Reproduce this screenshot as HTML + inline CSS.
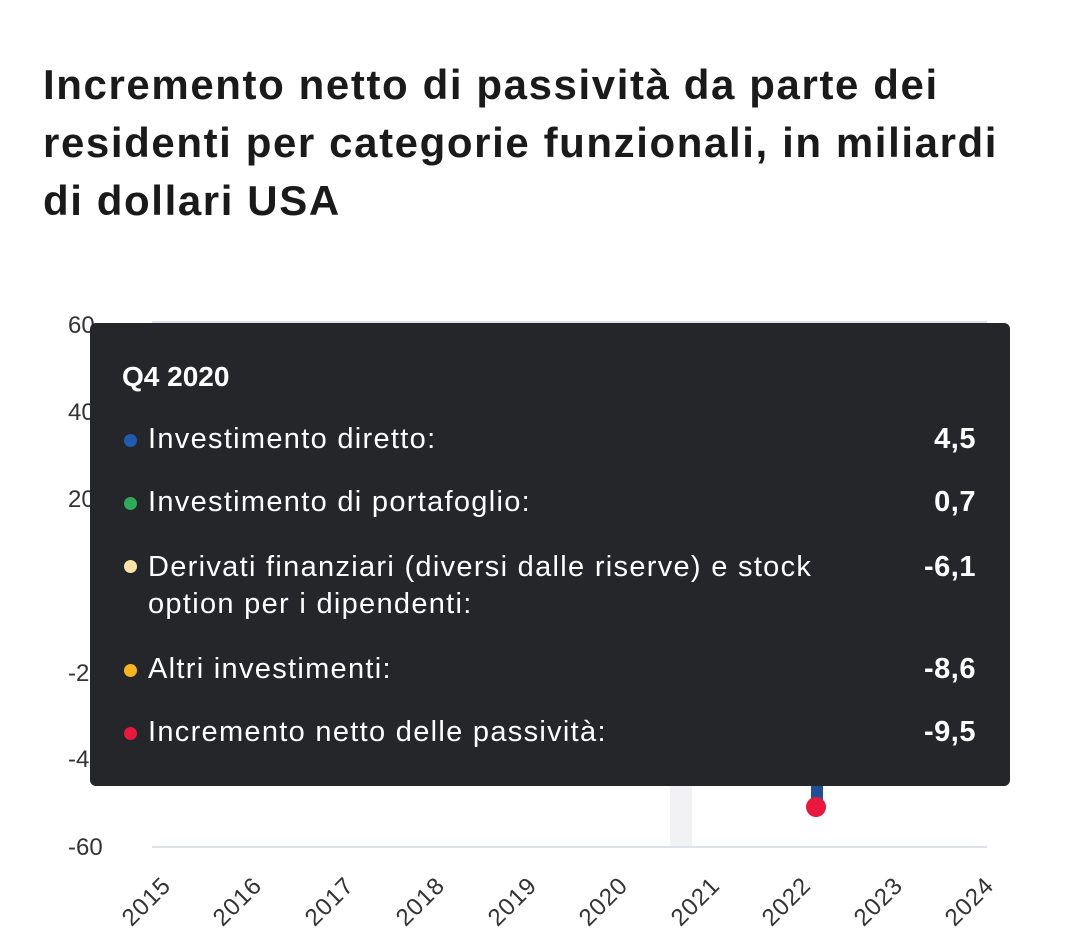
<!DOCTYPE html>
<html><head><meta charset="utf-8"><style>
body{margin:0;width:1080px;height:941px;background:#fff;font-family:"Liberation Sans",sans-serif;position:relative;overflow:hidden}
h1{position:absolute;left:43px;top:56px;margin:0;font-size:42px;line-height:58px;font-weight:bold;color:#1a1a1a;white-space:nowrap;letter-spacing:1.6px}
.yl{position:absolute;left:68px;font-size:24px;color:#333}
.xl{position:absolute;font-size:24px;color:#333;transform-origin:right top;transform:rotate(-45deg);letter-spacing:1px}
.tt{position:absolute;left:90px;top:323px;width:920px;height:463px;background:#25262a;border-radius:6px;color:#fff}
.r{position:absolute;left:58px;font-size:29px;width:830px;letter-spacing:1.3px}
.r .d{position:absolute;left:-24px;top:11px;width:13px;height:13px;border-radius:50%}
.r .v{position:absolute;right:2px;top:0;font-weight:bold;letter-spacing:0.5px}
</style></head><body>
<h1>Incremento netto di passività da parte dei<br>residenti per categorie funzionali, in miliardi<br>di dollari USA</h1>
<svg width="1080" height="941" style="position:absolute;left:0;top:0">
<rect x="670" y="322" width="22" height="525" fill="#f2f2f4"/>
<line x1="152" y1="322" x2="987" y2="322" stroke="#dde2ec" stroke-width="2"/>
<line x1="152" y1="847" x2="987" y2="847" stroke="#dde2ec" stroke-width="2"/>
<rect x="811" y="770" width="12" height="34" fill="#1f4f96"/>
<circle cx="816" cy="807" r="10" fill="#e8193c"/>
</svg>
<div class="yl" style="top:312px">60</div>
<div class="yl" style="top:399px">40</div>
<div class="yl" style="top:486px">20</div>
<div class="yl" style="top:660px">-20</div>
<div class="yl" style="top:746px">-40</div>
<div class="yl" style="top:834px">-60</div>
<div class="xl" style="left:100px;top:872px">2015</div>
<div class="xl" style="left:191px;top:872px">2016</div>
<div class="xl" style="left:283px;top:872px">2017</div>
<div class="xl" style="left:374px;top:872px">2018</div>
<div class="xl" style="left:466px;top:872px">2019</div>
<div class="xl" style="left:557px;top:872px">2020</div>
<div class="xl" style="left:649px;top:872px">2021</div>
<div class="xl" style="left:740px;top:872px">2022</div>
<div class="xl" style="left:832px;top:872px">2023</div>
<div class="xl" style="left:923px;top:872px">2024</div>
<div class="tt">
<div style="position:absolute;left:32px;top:38px;font-size:28px;font-weight:bold">Q4 2020</div>
<div class="r" style="top:100px"><span class="d" style="background:#1f5bb0"></span>Investimento diretto:<span class="v">4,5</span></div>
<div class="r" style="top:163px"><span class="d" style="background:#2eaa5c"></span>Investimento di portafoglio:<span class="v">0,7</span></div>
<div class="r" style="top:226px;line-height:37px"><span class="d" style="background:#fde3a8"></span>Derivati finanziari (diversi dalle riserve) e stock<br>option per i dipendenti:<span class="v">-6,1</span></div>
<div class="r" style="top:330px"><span class="d" style="background:#f6b51e"></span>Altri investimenti:<span class="v">-8,6</span></div>
<div class="r" style="top:393px"><span class="d" style="background:#e8193c"></span>Incremento netto delle passività:<span class="v">-9,5</span></div>
</div>
</body></html>
